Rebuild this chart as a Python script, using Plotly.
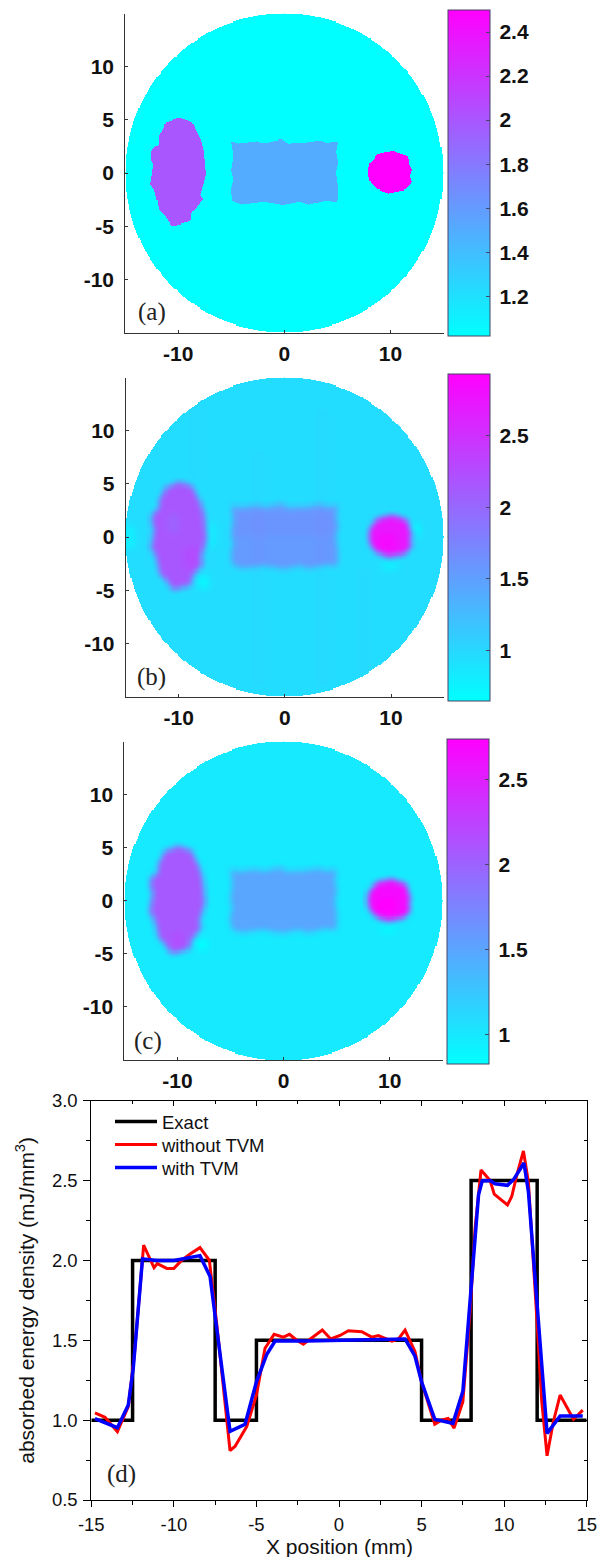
import numpy as np
import plotly.graph_objects as go

W, H = 601, 1557

# ---- outlines of the phantom regions, in mm
ellipse_x = [-10.06,-10.60,-11.29,-11.44,-11.85,-11.82,-12.48,-12.57,-12.32,-12.48,-12.63,-12.23,-12.01,-11.85,-11.22,-10.60,
             -9.81,-8.81,-8.71,-8.24,-7.62,-7.93,-7.55,-7.37,-7.46,-7.55,-7.77,-8.24,-8.62,-9.66]
ellipse_y = [5.20,4.89,4.67,4.11,3.48,2.70,2.23,1.29,0.82,-0.13,-1.07,-1.69,-2.48,-3.42,-4.04,-4.98,
             -4.83,-4.51,-3.73,-3.17,-2.48,-2.01,-0.91,-0.13,0.97,1.91,2.85,3.79,4.73,5.11]
rect_x = [-5.05,-4.33,-2.60,-1.97,-0.25,0.38,1.79,3.51,3.98,5.08,4.86,5.08,4.86,5.08,4.98,3.98,2.26,1.47,-0.09,-1.97,-4.01,-4.95,-5.05,-4.80,-5.05,-4.80]
rect_y = [3.01,2.79,3.01,2.79,3.17,2.79,2.85,3.10,2.85,3.01,1.91,0.97,0.03,-1.54,-2.79,-2.63,-3.01,-2.73,-3.04,-2.73,-3.01,-2.63,-1.54,-0.6,0.19,1.6]
disc_x = [7.90,8.11,8.84,10.25,11.03,11.66,11.82,12.04,11.82,12.04,11.35,9.78,8.68,8.06]
disc_y = [0.19,0.97,1.76,2.07,1.76,1.54,0.66,0.28,-0.28,-0.85,-1.60,-1.91,-1.47,-0.75]

# ---- level of each region per panel: background, rectangle, ellipse, disc
levels_a = [1.0, 1.5, 2.0, 2.5]
levels_b = [0.95, 1.55, 2.15, 2.72]
levels_c = [0.99, 1.5, 2.07, 2.66]
range_a = [1.02, 2.5]
range_b = [0.65, 2.93]
range_c = [0.83, 2.74]
ticks_a = [1.2, 1.4, 1.6, 1.8, 2, 2.2, 2.4]
ticks_b = [1, 1.5, 2, 2.5]
ticks_c = [1, 1.5, 2, 2.5]

# local deviations seen in the reconstructions: x0, x1, y0, y1, delta
spots_b = [(-8.1,-7.2,-4.8,-3.7,-0.22),(12.1,12.8,0.2,1.2,-0.2),(9.2,10.6,-3.0,-2.5,-0.2),(-7.3,-6.5,-0.8,1.2,-0.12),
           (-15,-14.2,-1,1,-0.16),(-9.5,-8,-3,-1,0.1),(-11,-10,0.5,2,-0.1),(8.8,10.5,-1.2,0.2,0.12),(-5,5,0.2,2.2,0.05),
           (-3,-2,-14,8,0.03),(3,4,-14,12,0.03),(-9,-8,5.5,13,0.03),(7,8,-13,-3,0.03)]
spots_c = [(-8.1,-7.2,-4.6,-3.6,-0.15),(9.2,10.6,-3.0,-2.5,-0.12),(-10.5,-9.5,-4.5,-3,0.08),(9,10.5,-1.0,0.2,0.1)]

# ---- profile along y = 0 (panel d)
exact_x = [-15,-12.5,-12.5,-7.5,-7.5,-5,-5,5,5,8,8,12,12,15]
exact_y = [1,1,2,2,1,1,1.5,1.5,1,1,2.5,2.5,1,1]
red_x = [-14.78,-14.17,-13.42,-12.76,-12.4,-11.83,-11.2,-11.0,-10.43,-10.0,-9.53,-9.02,-8.42,-7.85,-7.4,-6.6,-6.3,-5.59,-5.0,-4.48,-3.93,-3.37,-3.0,-2.56,
         -2.16,-1.75,-1.01,-0.5,0.06,0.57,1.38,1.98,2.38,3.2,3.6,4.0,4.6,5.0,5.8,6.2,6.6,6.97,7.5,7.94,8.24,8.6,9.15,9.4,10.2,10.46,10.77,11.17,11.47,11.98,12.28,12.6,12.98,13.39,14.2,14.76]
red_y = [1.045,1.018,0.928,1.084,1.4,2.096,1.954,1.98,1.95,1.95,2.0,2.04,2.08,2.0,1.6,0.81,0.835,0.96,1.157,1.45,1.537,1.52,1.537,1.50,
         1.475,1.508,1.564,1.508,1.53,1.56,1.554,1.52,1.53,1.495,1.508,1.564,1.43,1.24,0.974,1.0,1.01,0.95,1.116,1.68,2.2,2.566,2.50,2.415,2.347,2.4,2.535,2.685,2.49,1.637,1.116,0.777,0.99,1.157,1.005,1.063]
blue_x = [-14.78,-13.42,-12.76,-12.46,-11.9,-11.04,-10,-8.42,-7.81,-6.6,-5.69,-5,-4.38,-3.87,-2,0,4.0,4.6,5.0,5.8,6.9,7.5,7.94,8.45,8.67,9.15,9.45,10.2,10.6,11.2,11.47,11.98,12.6,13.39,14.76]
blue_y = [1.01,0.953,1.095,1.324,2.01,2.0,2.0,2.03,1.9,0.93,0.974,1.24,1.41,1.495,1.495,1.5,1.508,1.4,1.24,1.005,0.98,1.18,1.74,2.41,2.497,2.5,2.48,2.47,2.51,2.61,2.43,1.72,0.917,1.026,1.026]

LINE = "#333333"
cool = [[0, "rgb(0,255,255)"], [1, "rgb(255,0,255)"]]

grid = np.round(np.arange(-15, 15.0001, 0.1), 3)
GX, GY = np.meshgrid(grid, grid)

def inside(px, py):
    px = np.asarray(px); py = np.asarray(py)
    res = np.zeros(GX.shape, bool)
    n = len(px)
    for i in range(n):
        x0, y0, x1, y1 = px[i], py[i], px[(i + 1) % n], py[(i + 1) % n]
        if y0 == y1:
            continue
        c = ((y0 > GY) != (y1 > GY)) & (GX < (x1 - x0) * (GY - y0) / (y1 - y0) + x0)
        res ^= c
    return res

M_R, M_E, M_D = inside(rect_x, rect_y), inside(ellipse_x, ellipse_y), inside(disc_x, disc_y)
DISK = GX**2 + GY**2 <= 15.0**2

def blur(a, r):
    for ax in (0, 1):
        for _ in range(2):
            p = np.pad(a, [(r, r) if i == ax else (0, 0) for i in (0, 1)], mode="edge")
            c = np.cumsum(np.insert(p, 0, 0, axis=ax), axis=ax)
            k = 2 * r + 1
            if ax == 0:
                a = (c[k:, :] - c[:-k, :]) / k
            else:
                a = (c[:, k:] - c[:, :-k]) / k
    return a

def field(levels, spots=(), r=0):
    z = np.full(GX.shape, float(levels[0]))
    z[M_R] = levels[1]; z[M_E] = levels[2]; z[M_D] = levels[3]
    for (x0, x1, y0, y1, d) in spots:
        z[(GX >= x0) & (GX <= x1) & (GY >= y0) & (GY <= y1)] += d
    if r:
        z = blur(z, r)
    z = np.round(z, 3)
    z[~DISK] = np.nan
    return z

fig = go.Figure()

# panel pixel geometry: left, right, top, bottom; colour bar left, right, top, bottom
panels = [
    dict(n="", ax=(125.2, 443.6, 13.5, 332.5), cb=(447.7, 489.3, 10, 336), z=field(levels_a), rng=range_a, ticks=ticks_a, lab="(a)", lxy=(152.3, 311.7)),
    dict(n="2", ax=(125.7, 444.1, 377.5, 696.7), cb=(448.3, 490, 374, 700.7), z=field(levels_b, spots_b, 3), rng=range_b, ticks=ticks_b, lab="(b)", lxy=(151, 676.7)),
    dict(n="3", ax=(124.4, 442.8, 741.5, 1060), cb=(447.3, 489.3, 739, 1063.7), z=field(levels_c, spots_c, 3), rng=range_c, ticks=ticks_c, lab="(c)", lxy=(147.7, 1041)),
]
annos = []
layout_ax = {}
BOLD = dict(family="Liberation Sans", size=21, color="#111111", weight="bold")
for p in panels:
    l, r, t, b = p["ax"]
    cl, cr, ct, cb = p["cb"]
    fig.add_trace(go.Heatmap(
        x=grid, y=grid, z=p["z"], xaxis="x" + p["n"], yaxis="y" + p["n"], colorscale=cool,
        zmin=p["rng"][0], zmax=p["rng"][1], zsmooth=False, hoverongaps=False,
        colorbar=dict(
            x=cl / W, xanchor="left", xref="container", thickness=cr - cl, thicknessmode="pixels",
            y=1 - (ct + cb) / 2 / H, yanchor="middle", yref="container", len=cb - ct, lenmode="pixels",
            xpad=0, ypad=0, outlinecolor="#444466", outlinewidth=1, borderwidth=0,
            tickmode="array", tickvals=p["ticks"], ticktext=["\u2009" + str(v) for v in p["ticks"]],
            ticks="inside", ticklen=4, tickwidth=1, tickcolor="#444466", tickfont=BOLD,
        ),
    ))
    yt = [-10, -5, 0, 5, 10]
    common = dict(range=[-15, 15], showgrid=False, zeroline=False, showline=True, linecolor=LINE, linewidth=1,
                  ticks="inside", ticklen=3, tickwidth=1, tickcolor=LINE, tickmode="array", tickfont=BOLD)
    layout_ax["xaxis" + p["n"]] = dict(common, domain=[l / W, r / W], anchor="y" + p["n"], ticklabelstandoff=2,
                                       tickvals=[-10, 0, 10], ticktext=["-10", "0", "10"])
    layout_ax["yaxis" + p["n"]] = dict(common, domain=[1 - b / H, 1 - t / H], anchor="x" + p["n"], ticklabelstandoff=6,
                                       tickvals=yt, ticktext=[str(v) for v in yt])
    annos.append(dict(text=p["lab"], xref="paper", yref="paper", x=p["lxy"][0] / W, y=1 - p["lxy"][1] / H,
                      showarrow=False, xanchor="center", yanchor="middle",
                      font=dict(family="Liberation Serif", size=25, color="#222222")))

# ---- panel (d)
dl, dr, dt, db = 91.3, 586.7, 1100.7, 1500
fig.add_trace(go.Scatter(x=exact_x, y=exact_y, mode="lines", name="Exact", xaxis="x4", yaxis="y4", legend="legend",
                         line=dict(color="black", width=3.5)))
fig.add_trace(go.Scatter(x=red_x, y=red_y, mode="lines", name="without TVM", xaxis="x4", yaxis="y4", legend="legend2",
                         line=dict(color="#ff0000", width=3)))
fig.add_trace(go.Scatter(x=blue_x, y=blue_y, mode="lines", name="with TVM", xaxis="x4", yaxis="y4", legend="legend3",
                         line=dict(color="#0000ff", width=3.5)))
fig.add_trace(go.Scatter(x=[None], y=[None], xaxis="x5", yaxis="y5", showlegend=False, hoverinfo="skip"))

REG = dict(family="Liberation Sans", size=18.5, color="#111111")
TITLE = dict(family="Liberation Sans", size=21, color="#111111")
xt = [-15, -10, -5, 0, 5, 10, 15]
d_x = dict(range=[-15, 15], showgrid=False, zeroline=False, showline=True, linecolor="black", linewidth=1,
           tickmode="array", tickvals=xt, ticktext=[str(v) for v in xt], tickfont=REG, tickwidth=1, tickcolor="black")
d_y = dict(range=[0.5, 3.0], showgrid=False, zeroline=False, showline=True, linecolor="black", linewidth=1,
           tickmode="array", tickvals=[0.5, 1, 1.5, 2, 2.5, 3], ticktext=["0.5", "1.0", "1.5", "2.0", "2.5", "3.0"],
           tickfont=REG, tickwidth=1, tickcolor="black")
minor_x = [-12.5, -7.5, -2.5, 2.5, 7.5, 12.5]
minor_y = [0.75, 1.25, 1.75, 2.25, 2.75]
layout_ax["xaxis4"] = dict(d_x, domain=[dl / W, dr / W], anchor="y4", ticks="outside", ticklen=6,
                           ticklabelstandoff=2, minor=dict(tickvals=minor_x, ticks="outside", ticklen=4, tickwidth=1, tickcolor="black"))
layout_ax["yaxis4"] = dict(d_y, domain=[1 - db / H, 1 - dt / H], anchor="x4", ticks="outside", ticklen=7,
                           ticklabelstandoff=2, minor=dict(tickvals=minor_y, ticks="outside", ticklen=4, tickwidth=1, tickcolor="black"),
                           title=dict(text="absorbed energy density (mJ/mm<sup>3</sup>)", font=TITLE, standoff=11))
layout_ax["xaxis5"] = dict(d_x, domain=[dl / W, dr / W], anchor="y5", overlaying="x4", side="top", ticks="inside", ticklen=5,
                           showticklabels=False, minor=dict(tickvals=minor_x, ticks="inside", ticklen=3, tickwidth=1, tickcolor="black"))
layout_ax["yaxis5"] = dict(d_y, domain=[1 - db / H, 1 - dt / H], anchor="x5", overlaying="y4", side="right", ticks="inside", ticklen=5,
                           showticklabels=False, minor=dict(tickvals=minor_y, ticks="inside", ticklen=3, tickwidth=1, tickcolor="black"))
annos.append(dict(text="(d)", xref="paper", yref="paper", x=122 / W, y=1 - 1474 / H, showarrow=False,
                  xanchor="center", yanchor="middle", font=dict(family="Liberation Serif", size=25, color="#222222")))
annos.append(dict(text="X position (mm)", xref="paper", yref="paper", x=339 / W, y=1 - 1546 / H, showarrow=False,
                  xanchor="center", yanchor="middle", font=TITLE))

def leg(yc):
    return dict(x=110 / W, xanchor="left", y=1 - yc / H, yanchor="middle", bgcolor="rgba(0,0,0,0)", borderwidth=0,
                font=REG, itemwidth=42)

fig.update_layout(
    width=W, height=H, autosize=False, margin=dict(l=0, r=0, t=0, b=0, autoexpand=False),
    paper_bgcolor="white", plot_bgcolor="rgba(0,0,0,0)", annotations=annos,
    legend=leg(1122), legend2=leg(1145), legend3=leg(1168),
    showlegend=True, **layout_ax,
)
fig.write_html("out.html", config={"displayModeBar": False},
               post_script="document.body.style.margin='0';document.documentElement.style.overflow='hidden';")
